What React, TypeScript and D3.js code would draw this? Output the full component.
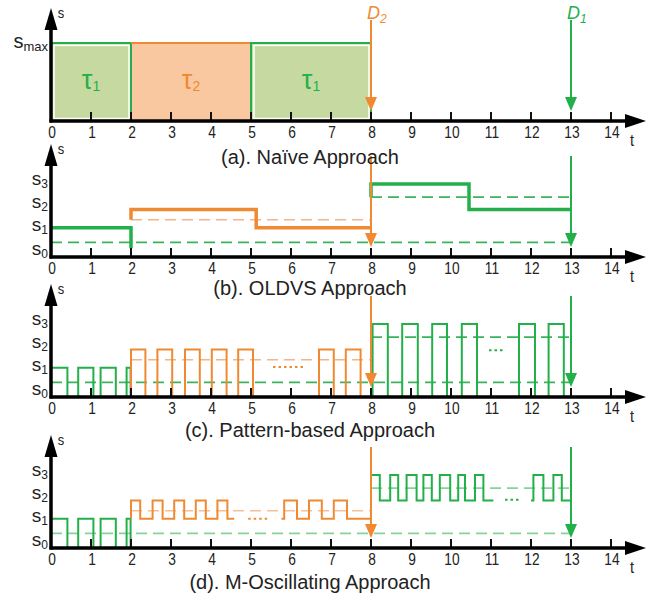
import React from 'react'
import * as d3 from 'd3'

// speed levels (normalised, s3 = 1)
const S0 = 0
const S1 = 0.4
const S2 = 0.65
const S3 = 1.0
const SMAX = 1.07
const levelNames = ['0', '1', '2', '3']
const levelLabelAt = [0.1, 0.43, 0.74, 1.05]

// average speeds (dashed)
const AVG1_LOW = 0.2
const AVG2 = 0.51
const AVG1_HIGH = 0.82

const tickValues = [0, 1, 2, 3, 4, 5, 6, 7, 8, 9, 10, 11, 12, 13, 14]
const captions = [
  '(a). Naïve Approach',
  '(b). OLDVS Approach',
  '(c). Pattern-based Approach',
  '(d). M-Oscillating Approach',
]

// (a) naive: task blocks at s_max
const naiveBlocks = [
  { task: 1, from: 0, to: 2 },
  { task: 2, from: 2, to: 5 },
  { task: 1, from: 5, to: 8 },
]
const deadlines = [
  { task: 2, t: 8 },
  { task: 1, t: 13 },
]

// (b) OLDVS step profiles [t, s]
const oldvsGreen1 = [[0, S1], [2, 0.12]]
const oldvsOrange = [[2, AVG2], [2, S2], [5.13, S1], [8, S1]]
const oldvsGreen2 = [[8, AVG1_HIGH], [8, S3], [10.45, S2], [13, S2]]

// (c) pattern-based: high intervals
const patGreen1 = [[0, 0.41], [0.68, 1.06], [1.24, 1.62], [1.89, 1.99]]
const patOrange = [[2, 2.36], [2.66, 3.03], [3.35, 3.72], [4.02, 4.39], [4.68, 5.05], [6.7, 7.07], [7.37, 7.74]]
const patGreen2 = [[8.04, 8.42], [8.78, 9.17], [9.53, 9.9], [10.27, 10.65], [11.7, 12.1], [12.44, 12.82]]

// (d) m-oscillating: high intervals
const oscGreen1 = [[0, 0.41], [0.68, 1.06], [1.24, 1.62], [1.89, 1.99]]
const oscOrangeA = [[2, 2.23], [2.54, 2.79], [3.08, 3.33], [3.62, 3.87], [4.16, 4.41]]
const oscOrangeB = [[5.83, 6.15], [6.45, 6.77], [7.07, 7.4]]
const oscGreenA = [[8, 8.22], [8.48, 8.68], [8.89, 9.14], [9.31, 9.52], [9.72, 9.98], [10.18, 10.35], [10.6, 10.81]]
const oscGreenB = [[12.06, 12.31], [12.56, 12.77]]

// dotted "..." marks
const dotsC = [
  { task: 2, from: 5.55, to: 6.35, s: 0.41 },
  { task: 1, from: 10.95, to: 11.33, s: 0.64 },
]
const dotsD = [
  { task: 2, from: 4.93, to: 5.43, s: 0.4 },
  { task: 1, from: 11.35, to: 11.73, s: 0.66 },
]

const GREEN = '#23b04b'
const ORANGE = '#f08a32'
const GREEN_FILL = '#c6d9a0'
const ORANGE_FILL = '#f9c8a1'
const INK = '#222'
const FONT = 'Liberation Sans, Arial, sans-serif'

const W = 662
const H = 599
const x = d3.scaleLinear().domain([0, 14]).range([51, 611])
const panelAxisY = [121, 257, 397, 548]
const captionY = [157, 288, 430, 582]

const taskColor = (task: number) => (task === 1 ? GREEN : ORANGE)

function train(lo: number, hi: number, start: number, highs: number[][], end: number) {
  const pts: number[][] = [[start, lo]]
  highs.forEach(([a, b]) => {
    pts.push([a, hi])
    pts.push([b, lo])
  })
  pts.push([end, lo])
  return pts
}

// narrow-looking text (condensed horizontally)
function NText({ x: tx, y: ty, size, children, anchor = 'middle' }: any) {
  return (
    <text transform={`translate(${tx},${ty}) scale(0.86,1)`} fontSize={size} fontFamily={FONT}
      fill={INK} textAnchor={anchor}>
      {children}
    </text>
  )
}

function Axes({ axisY }: { axisY: number }) {
  const x0 = x(0)
  return (
    <g>
      {tickValues.filter(t => t > 0).map(t => (
        <line key={t} x1={x(t)} x2={x(t)} y1={axisY} y2={axisY - 9} stroke="#111" strokeWidth={2} />
      ))}
      <line x1={x0 - 1.5} x2={625} y1={axisY} y2={axisY} stroke="#000" strokeWidth={3.5} />
      <path d={`M625,${axisY - 7}L646,${axisY}L625,${axisY + 7}Z`} fill="#000" />
      <line x1={x0} x2={x0} y1={axisY + 1.5} y2={axisY - 92} stroke="#000" strokeWidth={3.5} />
      <path d={`M${x0 - 6.5},${axisY - 91}L${x0},${axisY - 113}L${x0 + 6.5},${axisY - 91}Z`} fill="#000" />
      <NText x={61} y={axisY - 103} size={15} anchor="middle">s</NText>
      <NText x={632} y={axisY + 25} size={17}>t</NText>
      {tickValues.map(t => (
        <NText key={t} x={x(t) + 1} y={axisY + 17} size={16}>
          {t}
        </NText>
      ))}
    </g>
  )
}

function LevelLabels({ y }: { y: d3.ScaleLinear<number, number> }) {
  return (
    <g fontFamily={FONT} fill={INK}>
      {levelNames.map((n, i) => (
        <text key={n} x={48} y={y(levelLabelAt[i]) + 5} fontSize={19} textAnchor="end">
          s<tspan fontSize={12} dy={3}>{n}</tspan>
        </text>
      ))}
    </g>
  )
}

function Deadlines({ axisY, labels }: { axisY: number; labels?: boolean }) {
  return (
    <g>
      {deadlines.map(d => {
        const c = taskColor(d.task)
        const xx = x(d.t)
        return (
          <g key={d.task}>
            <line x1={xx} x2={xx} y1={axisY - 101} y2={axisY - 20} stroke={c} strokeWidth={2} />
            <path d={`M${xx - 6},${axisY - 24}L${xx},${axisY - 10}L${xx + 6},${axisY - 24}Z`} fill={c} />
            {labels && (
              <text x={xx - 4} y={axisY - 102} fontSize={18} fontStyle="italic" fontFamily={FONT} fill={c}>
                D<tspan fontSize={12} dy={4}>{d.task}</tspan>
              </text>
            )}
          </g>
        )
      })}
    </g>
  )
}

function Dashed({ y, light }: { y: any; light?: boolean }) {
  const g = light ? '#84d39b' : '#3bb35a'
  const o = light ? '#f6bf95' : '#f5b48a'
  const seg = (from: number, to: number, s: number, c: string) => (
    <line x1={x(from)} x2={x(to)} y1={y(s)} y2={y(s)} stroke={c} strokeWidth={1.6} strokeDasharray="11 6" />
  )
  return (
    <g>
      {seg(0, 13, AVG1_LOW, g)}
      {seg(2, 8, AVG2, o)}
      {seg(8, 13, AVG1_HIGH, g)}
    </g>
  )
}

function Dots({ y, dots }: { y: any; dots: any[] }) {
  return (
    <g>
      {dots.map((d, i) => (
        <line key={i} x1={x(d.from)} x2={x(d.to)} y1={y(d.s)} y2={y(d.s)} stroke={taskColor(d.task)}
          strokeWidth={2} strokeDasharray="2.5 3" />
      ))}
    </g>
  )
}

export default function App() {
  const ys = panelAxisY.map(a => d3.scaleLinear().domain([0, 1]).range([a, a - 73]))
  const line = (y: any) =>
    d3.line<number[]>().x(d => x(d[0])).y(d => y(d[1])).curve(d3.curveStepAfter)

  const [ya, yb, yc, yd] = ys
  const lb = line(yb), lc = line(yc), ld = line(yd)

  return (
    <svg width={W} height={H} viewBox={`0 0 ${W} ${H}`}
      style={{ position: 'absolute', left: 0, top: 0, background: '#fff' }}>
      {/* (a) */}
      <g>
        {tickValues.filter(t => t > 0).map(t => (
          <line key={t} x1={x(t)} x2={x(t)} y1={panelAxisY[0]} y2={panelAxisY[0] - 9} stroke="#111" strokeWidth={2} />
        ))}
        {naiveBlocks.map((b, i) => (
          <g key={i}>
            <rect x={x(b.from)} y={ya(SMAX)} width={x(b.to) - x(b.from)} height={ya(0) - ya(SMAX)}
              fill={b.task === 1 ? GREEN_FILL : ORANGE_FILL} />
            {b.task === 1 && (
              <rect x={x(b.from) + 3} y={ya(SMAX) + 2.5} width={x(b.to) - x(b.from) - 5} height={ya(0) - ya(SMAX) - 5}
                fill="none" stroke="#fff" strokeWidth={1.5} />
            )}
            <text x={(x(b.from) + x(b.to)) / 2} y={ya(0.5) + 4} fontSize={27} fontFamily={FONT}
              fill={taskColor(b.task)} textAnchor="middle">
              τ<tspan fontSize={14} dy={2}>{b.task}</tspan>
            </text>
          </g>
        ))}
        {naiveBlocks.map((b, i) => (
          <path key={i} d={b.task === 1
            ? `M${x(b.from)},${ya(0)}V${ya(SMAX)}H${x(b.to)}V${ya(0)}`
            : `M${x(b.from)},${ya(SMAX)}H${x(b.to)}`}
            fill="none" stroke={taskColor(b.task)} strokeWidth={2} />
        ))}
        <Axes axisY={panelAxisY[0]} />
        <text x={48} y={ya(SMAX) + 5} fontSize={20} fontFamily={FONT} fill={INK} textAnchor="end">
          s<tspan fontSize={13} dy={3}>max</tspan>
        </text>
        <Deadlines axisY={panelAxisY[0]} labels />
      </g>

      {/* (b) */}
      <g>
        <Dashed y={yb} />
        <path d={lb(oldvsGreen1 as any) || ''} fill="none" stroke={GREEN} strokeWidth={3.5} />
        <path d={lb(oldvsOrange as any) || ''} fill="none" stroke={ORANGE} strokeWidth={3.5} />
        <path d={lb(oldvsGreen2 as any) || ''} fill="none" stroke={GREEN} strokeWidth={3.5} />
        <Axes axisY={panelAxisY[1]} />
        <LevelLabels y={yb} />
        <Deadlines axisY={panelAxisY[1]} />
      </g>

      {/* (c) */}
      <g>
        <Dashed y={yc} />
        <path d={lc(train(S0, S1, 0, patGreen1, 2) as any) || ''} fill="none" stroke={GREEN} strokeWidth={2} />
        <path d={lc(train(S0, S2, 2, patOrange, 8) as any) || ''} fill="none" stroke={ORANGE} strokeWidth={2} />
        <path d={lc(train(S0, S3, 8, patGreen2, 13) as any) || ''} fill="none" stroke={GREEN} strokeWidth={2} />
        <Dots y={yc} dots={dotsC} />
        <Axes axisY={panelAxisY[2]} />
        <LevelLabels y={yc} />
        <Deadlines axisY={panelAxisY[2]} />
      </g>

      {/* (d) */}
      <g>
        <Dashed y={yd} light />
        <path d={ld(train(S0, S1, 0, oscGreen1, 2) as any) || ''} fill="none" stroke={GREEN} strokeWidth={2} />
        <path d={ld(train(S1, S2, 2, oscOrangeA, 4.58) as any) || ''} fill="none" stroke={ORANGE} strokeWidth={2} />
        <path d={ld(train(S1, S2, 5.76, oscOrangeB, 8) as any) || ''} fill="none" stroke={ORANGE} strokeWidth={2} />
        <path d={ld(train(S2, S3, 8, oscGreenA, 11.06) as any) || ''} fill="none" stroke={GREEN} strokeWidth={2} />
        <path d={ld(train(S2, S3, 12.0, oscGreenB, 13) as any) || ''} fill="none" stroke={GREEN} strokeWidth={2} />
        <Dots y={yd} dots={dotsD} />
        <Axes axisY={panelAxisY[3]} />
        <LevelLabels y={yd} />
        <Deadlines axisY={panelAxisY[3]} />
      </g>

      {captions.map((c, i) => (
        <text key={i} x={310} y={captionY[i] + 7} fontSize={20} fontFamily={FONT} fill={INK} textAnchor="middle">
          {c}
        </text>
      ))}
    </svg>
  )
}
